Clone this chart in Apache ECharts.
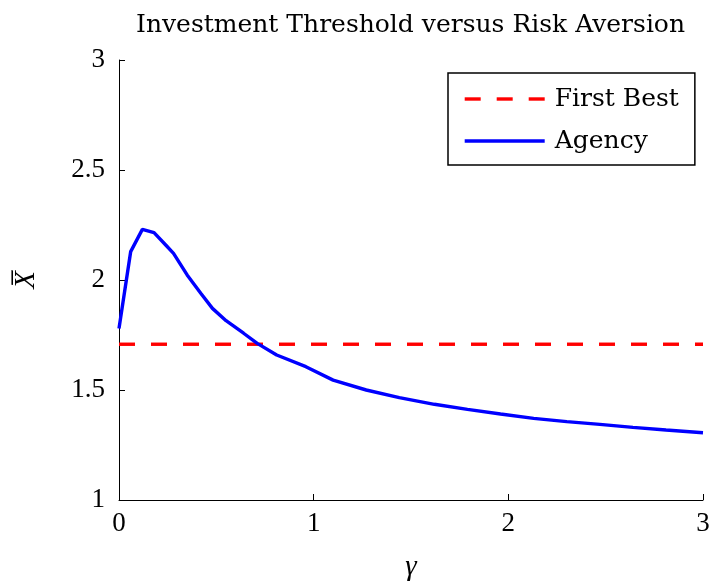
<!DOCTYPE html>
<html>
<head>
<meta charset="utf-8">
<script src="https://cdn.jsdelivr.net/npm/echarts@6/dist/echarts.min.js"></script>
<style>
  html, body { margin: 0; padding: 0; background: #fff; }
  #chart { width: 713px; height: 584px; }
</style>
</head>
<body>
<div id="chart"></div>
<script>
// Risk aversion levels (gamma) and the agency investment threshold at each
const gammaValues = [0, 0.06, 0.12, 0.18, 0.24, 0.28, 0.35, 0.42, 0.48, 0.55, 0.64, 0.71, 0.81, 0.96, 1.10, 1.27, 1.44, 1.62, 1.79, 1.96, 2.13, 2.30, 2.47, 2.64, 2.81, 3.0];
const agencyThreshold = [1.780, 2.129, 2.230, 2.215, 2.159, 2.121, 2.023, 1.940, 1.871, 1.815, 1.758, 1.712, 1.659, 1.606, 1.545, 1.500, 1.465, 1.435, 1.412, 1.391, 1.371, 1.356, 1.344, 1.330, 1.318, 1.306];
// First-best threshold does not depend on gamma
const firstBestGamma = [0, 3];
const firstBestThreshold = [1.708, 1.708];
const yTicks = [1, 1.5, 2, 2.5, 3];
const xTicks = [0, 1, 2, 3];

const NUM_FONT = '"Liberation Serif", serif';
const TEXT_FONT = '"DejaVu Serif", serif';

const chart = echarts.init(document.getElementById('chart'), null, { renderer: 'canvas' });

chart.setOption({
  animation: false,
  backgroundColor: '#fff',
  title: {
    text: 'Investment Threshold versus Risk Aversion',
    left: 131,
    top: 8,
    textStyle: { fontFamily: TEXT_FONT, fontWeight: 'normal', fontSize: 25, color: '#000' }
  },
  grid: { left: 119, right: 10, top: 60, bottom: 84, containLabel: false, outerBoundsMode: 'none' },
  legend: {
    orient: 'vertical',
    left: 448,
    top: 73,
    padding: [13, 16, 11, 15],
    itemGap: 16,
    itemWidth: 80,
    itemHeight: 26,
    borderColor: '#000',
    borderWidth: 1.5,
    borderRadius: 0,
    backgroundColor: '#fff',
    itemStyle: { opacity: 0, color: 'transparent', borderWidth: 0 },
    lineStyle: { width: 3.4 },
    textStyle: { fontFamily: TEXT_FONT, fontSize: 25, lineHeight: 26, color: '#000', padding: [0, 0, 0, 5] },
    data: ['First Best', 'Agency']
  },
  xAxis: {
    type: 'value',
    min: 0,
    max: 3,
    interval: 1,
    name: 'γ',
    nameLocation: 'middle',
    nameGap: 53,
    nameTextStyle: { fontFamily: NUM_FONT, fontStyle: 'italic', fontSize: 29, color: '#000' },
    axisLine: { onZero: false, lineStyle: { color: '#000', width: 1 } },
    axisTick: { inside: true, length: 6, lineStyle: { color: '#000' } },
    axisLabel: {
      margin: 10, fontFamily: NUM_FONT, fontSize: 27, color: '#000',
      formatter: v => (xTicks.includes(v) ? String(v) : '')
    },
    splitLine: { show: false }
  },
  yAxis: {
    type: 'value',
    min: 1,
    max: 3,
    interval: 0.5,
    name: 'X\u0305',
    nameLocation: 'middle',
    nameGap: 78,
    nameRotate: 90,
    nameTextStyle: { fontFamily: NUM_FONT, fontStyle: 'italic', fontSize: 29, color: '#000' },
    axisLine: { show: true, lineStyle: { color: '#000', width: 1 } },
    axisTick: { show: true, inside: true, length: 6, lineStyle: { color: '#000' } },
    axisLabel: {
      margin: 14, fontFamily: NUM_FONT, fontSize: 27, color: '#000',
      formatter: v => (yTicks.includes(v) ? String(v) : '')
    },
    splitLine: { show: false }
  },
  series: [
    {
      name: 'First Best',
      type: 'line',
      data: firstBestGamma.map((g, i) => [g, firstBestThreshold[i]]),
      symbol: 'none',
      lineStyle: { color: '#ff0000', width: 3.4, type: [16, 16] },
      itemStyle: { color: '#ff0000' },
      z: 2
    },
    {
      name: 'Agency',
      type: 'line',
      data: gammaValues.map((g, i) => [g, agencyThreshold[i]]),
      symbol: 'none',
      smooth: false,
      lineStyle: { color: '#0000ff', width: 3.4, type: 'solid' },
      itemStyle: { color: '#0000ff' },
      z: 3
    }
  ]
});
</script>
</body>
</html>
